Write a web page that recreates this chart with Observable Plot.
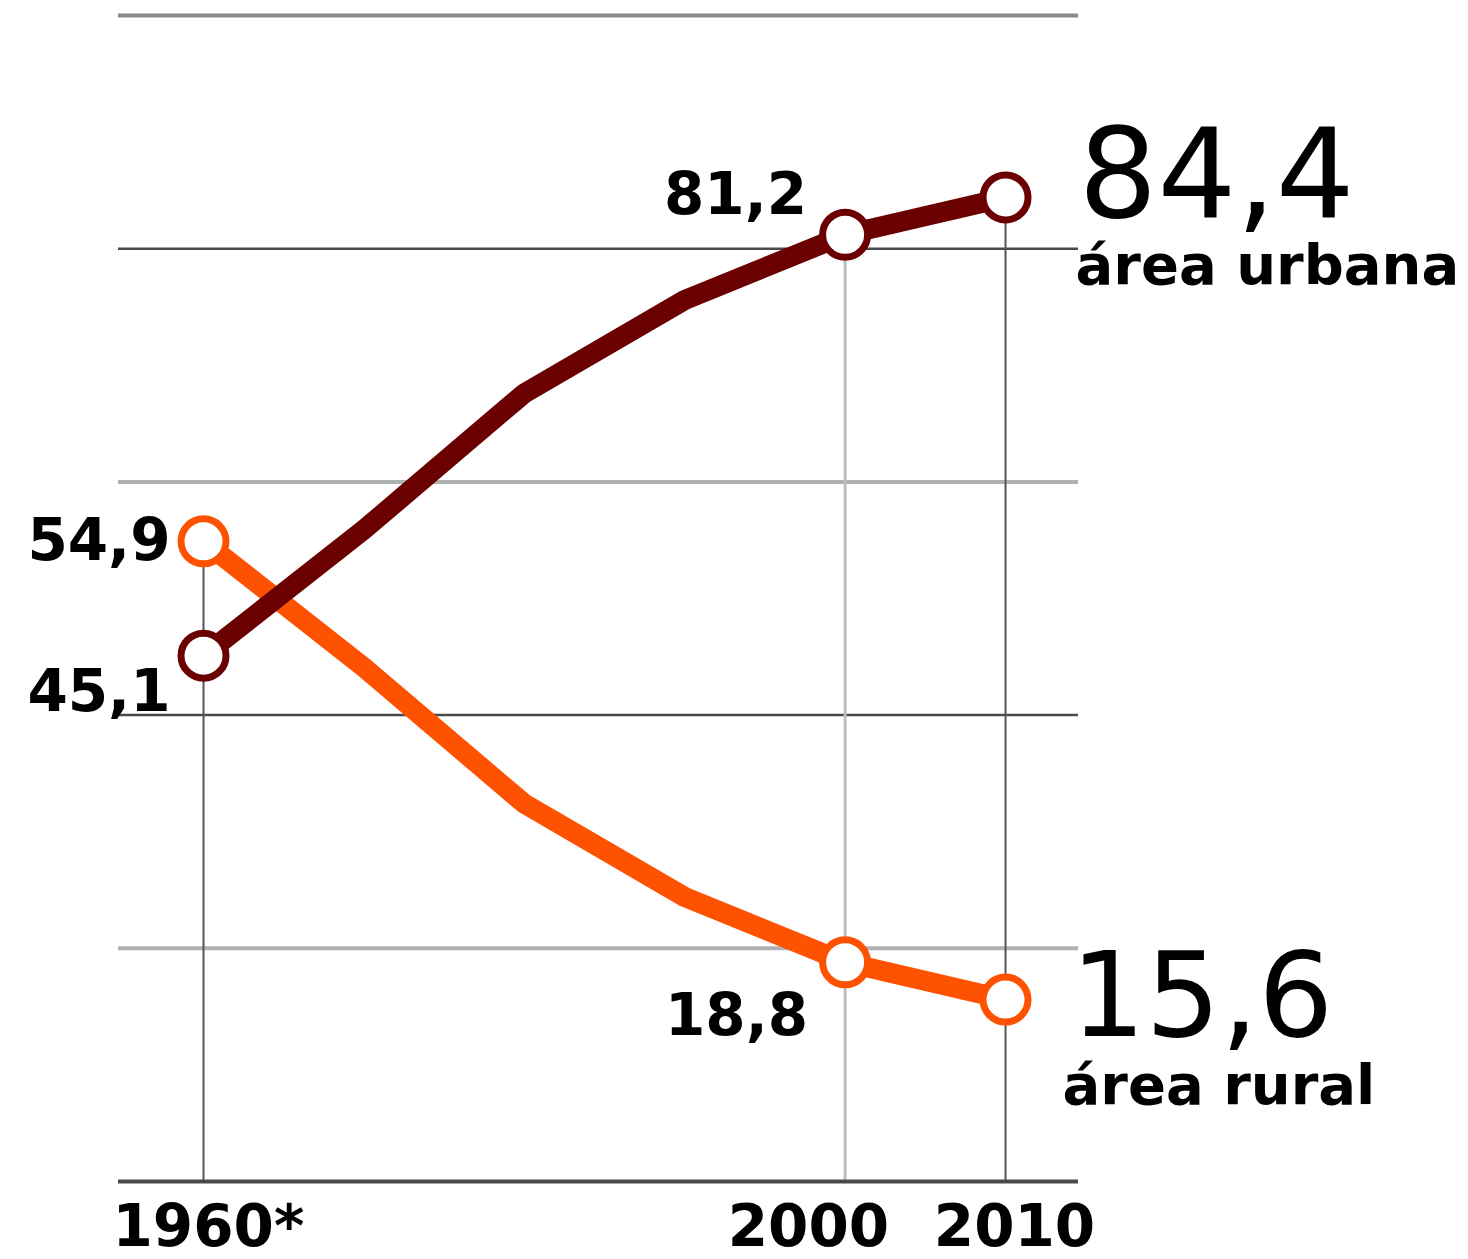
<!DOCTYPE html>
<html>
<head>
<meta charset="utf-8">
<script src="https://cdn.jsdelivr.net/npm/d3@7"></script>
<script src="https://cdn.jsdelivr.net/npm/@observablehq/plot@0.6"></script>
<style>
  html, body { margin: 0; padding: 0; background: #fff; }
  #chart svg { display: block; overflow: visible; }
</style>
</head>
<body>
<div id="chart"></div>
<script>
const years = [1960, 1970, 1980, 1990, 2000, 2010];
const urbana = [45.1, 55.9, 67.6, 75.6, 81.2, 84.4];
const rural = [54.9, 44.1, 32.4, 24.4, 18.8, 15.6];
const markedYears = [1960, 2000, 2010];
const tickLabels = ["1960*", "2000", "2010"];
const seriesNames = ["área urbana", "área rural"];
const gridDark = [80, 40];
const gridLight = [60, 20];
const gridTop = [100];
const gridBase = [0];

const fmt = v => v.toFixed(1).replace(".", ",");
const COL_U = "#6a0000";
const COL_R = "#ff5200";
const FONT = "DejaVu Sans";
const INK = "#000";

const urbRows = years.map((y, i) => ({year: y, v: urbana[i]}));
const rurRows = years.map((y, i) => ({year: y, v: rural[i]}));
const marked = markedYears.map(y => ({
  year: y,
  u: urbana[years.indexOf(y)],
  r: rural[years.indexOf(y)]
}));
const ticks = markedYears.map((y, i) => ({year: y, label: tickLabels[i]}));
const last = years.length - 1;

const plot = Plot.plot({
  width: 1468,
  height: 1259,
  marginLeft: 118,
  marginRight: 390,
  marginTop: 15,
  marginBottom: 78,
  x: {domain: [1954.7, 2014.55], axis: null},
  y: {domain: [0, 100], axis: null},
  style: {background: "#fff"},
  marks: [
    Plot.ruleY(gridTop, {stroke: "#8a8a8a", strokeWidth: 4}),
    Plot.ruleY(gridLight, {stroke: "#b0b0b0", strokeWidth: 4}),
    Plot.ruleY(gridDark, {stroke: "#4a4a4a", strokeWidth: 2.5}),
    Plot.ruleX(marked.filter(d => d.year !== 2000), {x: "year", y1: 0, y2: d => Math.max(d.u, d.r), stroke: "#555", strokeWidth: 2}),
    Plot.ruleX(marked.filter(d => d.year === 2000), {x: "year", y1: 0, y2: d => Math.max(d.u, d.r), stroke: "#bdbdbd", strokeWidth: 3}),
    Plot.ruleY(gridBase, {stroke: "#4a4a4a", strokeWidth: 4}),
    Plot.line(rurRows, {x: "year", y: "v", stroke: COL_R, strokeWidth: 20, strokeLinejoin: "round", strokeLinecap: "round"}),
    Plot.line(urbRows, {x: "year", y: "v", stroke: COL_U, strokeWidth: 20, strokeLinejoin: "round", strokeLinecap: "round"}),
    Plot.dot(marked, {x: "year", y: "r", r: 22.5, fill: "#fff", stroke: COL_R, strokeWidth: 7}),
    Plot.dot(marked, {x: "year", y: "u", r: 22.5, fill: "#fff", stroke: COL_U, strokeWidth: 7}),
    // value labels 1960
    Plot.text(marked.filter(d => d.year === 1960), {x: "year", y: "r", text: d => fmt(d.r), textAnchor: "end", lineAnchor: "bottom", dx: -33, dy: 19, fontSize: 58, fontWeight: "bold", fontFamily: FONT, fill: INK}),
    Plot.text(marked.filter(d => d.year === 1960), {x: "year", y: "u", text: d => fmt(d.u), textAnchor: "end", lineAnchor: "bottom", dx: -33, dy: 55, fontSize: 58, fontWeight: "bold", fontFamily: FONT, fill: INK}),
    // value labels 2000
    Plot.text(marked.filter(d => d.year === 2000), {x: "year", y: "u", text: d => fmt(d.u), textAnchor: "end", lineAnchor: "bottom", dx: -38, dy: -21, fontSize: 58, fontWeight: "bold", fontFamily: FONT, fill: INK}),
    Plot.text(marked.filter(d => d.year === 2000), {x: "year", y: "r", text: d => fmt(d.r), textAnchor: "end", lineAnchor: "bottom", dx: -37, dy: 73, fontSize: 58, fontWeight: "bold", fontFamily: FONT, fill: INK}),
    // end labels 2010
    Plot.text([urbRows[last]], {x: "year", y: "v", text: d => fmt(d.v), textAnchor: "start", lineAnchor: "bottom", dx: 73, dy: 20, fontSize: 124, fontFamily: FONT, fill: INK}),
    Plot.text([urbRows[last]], {x: "year", y: "v", text: () => seriesNames[0], textAnchor: "start", lineAnchor: "bottom", dx: 70, dy: 87, fontSize: 56, fontWeight: "bold", fontFamily: FONT, fill: INK}),
    Plot.text([rurRows[last]], {x: "year", y: "v", text: d => fmt(d.v), textAnchor: "start", lineAnchor: "bottom", dx: 65, dy: 36, fontSize: 118, fontFamily: FONT, fill: INK}),
    Plot.text([rurRows[last]], {x: "year", y: "v", text: () => seriesNames[1], textAnchor: "start", lineAnchor: "bottom", dx: 57, dy: 104, fontSize: 56, fontWeight: "bold", fontFamily: FONT, fill: INK}),
    // x tick labels
    Plot.text(ticks.filter(d => d.year === 1960), {x: "year", y: 0, text: "label", textAnchor: "start", lineAnchor: "bottom", dx: -91, dy: 64, fontSize: 58, fontWeight: "bold", fontFamily: FONT, fill: INK}),
    Plot.text(ticks.filter(d => d.year === 2000), {x: "year", y: 0, text: "label", textAnchor: "end", lineAnchor: "bottom", dx: 44, dy: 64, fontSize: 58, fontWeight: "bold", fontFamily: FONT, fill: INK}),
    Plot.text(ticks.filter(d => d.year === 2010), {x: "year", y: 0, text: "label", textAnchor: "middle", lineAnchor: "bottom", dx: 9, dy: 64, fontSize: 58, fontWeight: "bold", fontFamily: FONT, fill: INK})
  ]
});
document.getElementById("chart").appendChild(plot);
</script>
</body>
</html>
